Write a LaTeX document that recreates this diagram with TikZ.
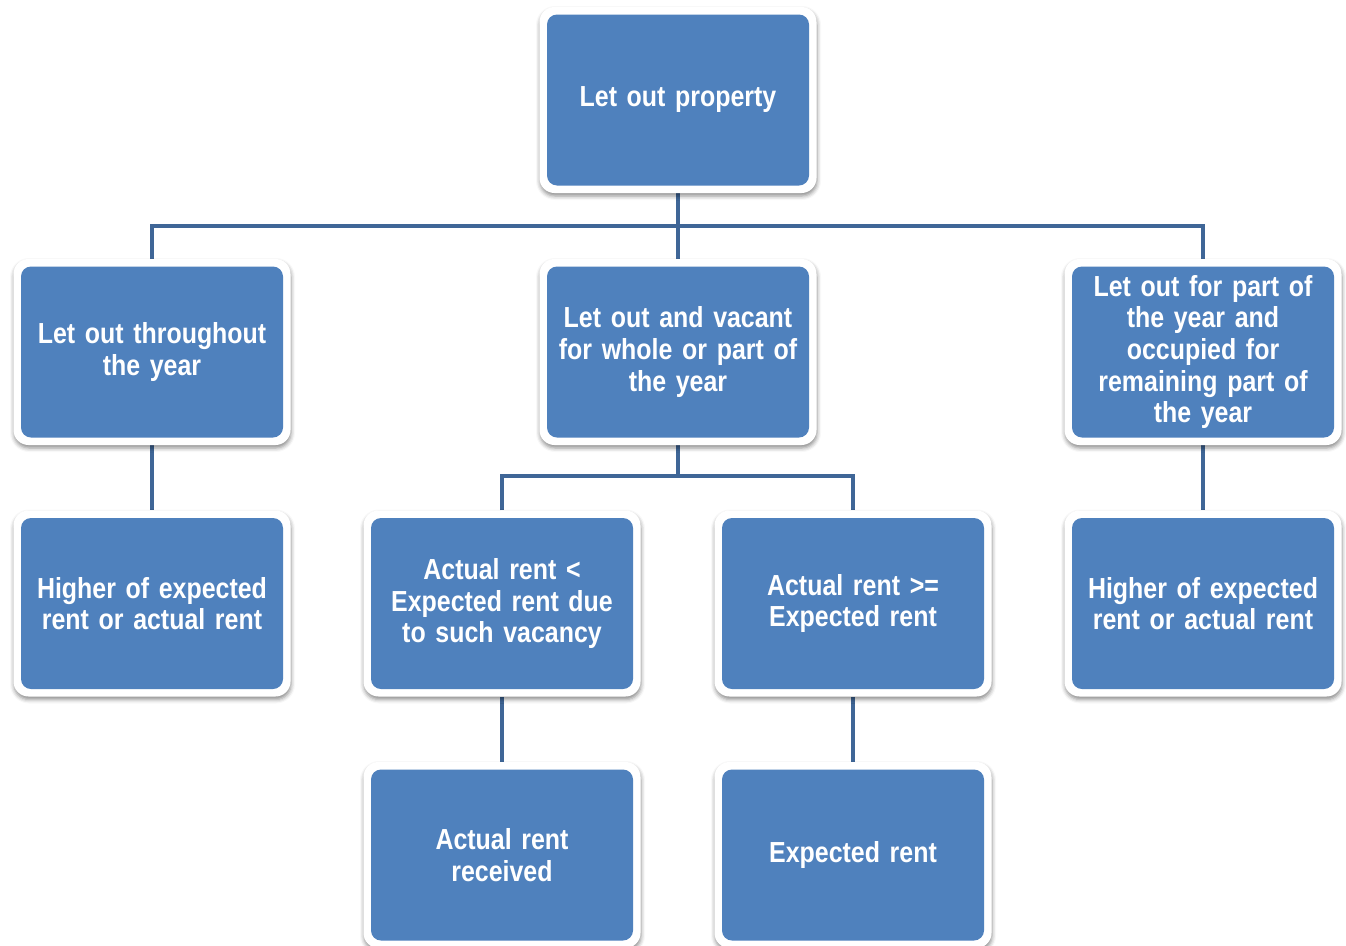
\documentclass[tikz,border=0pt]{standalone}
\usepackage{fontspec}
\setmainfont{Liberation Sans}[FakeStretch=0.86,WordSpace=0.8]
\usetikzlibrary{shadows.blur,backgrounds}
\definecolor{boxblue}{HTML}{4F81BD}
\definecolor{linkblue}{HTML}{3F6697}
\tikzset{
  card/.style={rectangle, rounded corners=15pt, fill=white,
    minimum width=277pt, minimum height=186pt, inner sep=0pt,
    text=white, align=center, text width=265pt,
    font=\fontsize{29}{31.7}\selectfont\bfseries,
    blur shadow={shadow xshift=0.5pt, shadow yshift=-3pt,
      shadow blur radius=4pt, shadow opacity=45},
    path picture={\fill[boxblue, rounded corners=10pt]
      ([shift={(7.5pt,-7.5pt)}]path picture bounding box.north west) rectangle
      ([shift={(-7.5pt,7.5pt)}]path picture bounding box.south east);}},
  link/.style={draw=linkblue, line width=4.5pt}
}
\begin{document}
\begin{tikzpicture}[x=1pt,y=-1pt]
\useasboundingbox (0,0) rectangle (1346,945);
% level 1
\node[card] (top) at (678,100) {Let out property};
% level 2
\node[card] (whole) at (152,352) {Let out throughout\\the year};
\node[card] (vacant) at (678,352) {Let out and vacant\\for whole or part of\\the year};
\node[card] (partly) at (1203,352) {Let out for part of\\the year and\\occupied for\\remaining part of\\the year};
% level 3
\node[card] (higherA) at (152,603.5) {Higher of expected\\rent or actual rent};
\node[card] (less) at (502,603.5) {Actual rent <\\Expected rent due\\to such vacancy};
\node[card] (more) at (853,603.5) {Actual rent >=\\Expected rent};
\node[card] (higherB) at (1203,603.5) {Higher of expected\\rent or actual rent};
% level 4
\node[card] (actual) at (502,855) {Actual rent\\received};
\node[card] (expected) at (853,855) {Expected rent};
% connectors
\coordinate (busA) at (678,226);
\coordinate (busB) at (678,476);
\begin{scope}[on background layer]
\draw[link] (top.south) -- (vacant.north);
\draw[link] (whole.north) |- (busA) -| (partly.north);
\draw[link] (whole.south) -- (higherA.north);
\draw[link] (partly.south) -- (higherB.north);
\draw[link] (vacant.south) -- (busB);
\draw[link] (less.north) |- (busB) -| (more.north);
\draw[link] (less.south) -- (actual.north);
\draw[link] (more.south) -- (expected.north);
\end{scope}
\end{tikzpicture}
\end{document}
